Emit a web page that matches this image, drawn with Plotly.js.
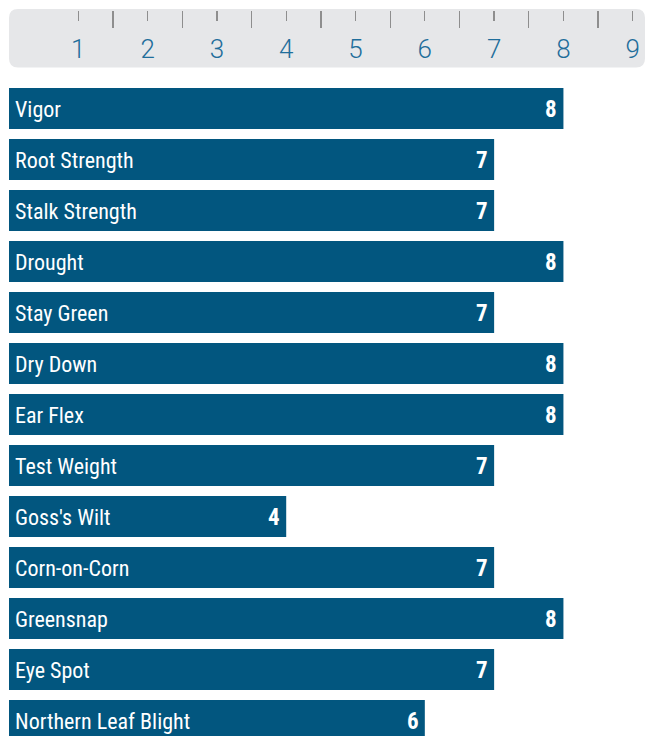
<!DOCTYPE html>
<html>
<head>
<meta charset="utf-8">
<script src="https://cdn.plot.ly/plotly-3.0.1.min.js"></script>
<style>html,body{margin:0;padding:0;background:#fff;}#chart{width:645px;height:736px;}</style>
</head>
<body>
<div id="chart"></div>
<script>
const categories = ["Vigor","Root Strength","Stalk Strength","Drought","Stay Green","Dry Down","Ear Flex","Test Weight","Goss's Wilt","Corn-on-Corn","Greensnap","Eye Spot","Northern Leaf Blight"];
const scores = [8,7,7,8,7,8,8,7,4,7,8,7,6];
const majorTicks = [1,2,3,4,5,6,7,8,9];
const minorTicks = [1.5,2.5,3.5,4.5,5.5,6.5,7.5,8.5];

const W = 645, H = 736;
const xRange = [0, 9.177];
const BAR = '#02567f';
const NAME_FONT = "'Roboto Condensed', 'Liberation Sans Narrow', 'Arial Narrow', 'DejaVu Sans Condensed', sans-serif";

function px2py(y){ return 1 - y / H; }
function px2px(x){ return (x - 9) / (W - 9); }

const bars = {
  type: 'bar',
  orientation: 'h',
  x: scores,
  y: categories,
  marker: {color: BAR, line: {width: 0}},
  hoverinfo: 'skip',
  showlegend: false
};

const annotations = [];
categories.forEach((c, i) => {
  annotations.push({
    x: 0, y: c, xref: 'x', yref: 'y',
    text: c, showarrow: false, xanchor: 'left', yanchor: 'middle',
    xshift: 4, yshift: -1,
    font: {family: NAME_FONT, size: 22, color: '#ffffff', stretch: 'condensed'}
  });
  annotations.push({
    x: scores[i], y: c, xref: 'x', yref: 'y',
    text: '<b>' + scores[i] + '</b>', showarrow: false, xanchor: 'right', yanchor: 'middle',
    xshift: -4, yshift: -1,
    font: {family: NAME_FONT, size: 23, color: '#ffffff', stretch: 'condensed'}
  });
});

// rounded ruler background
const x0 = px2px(9), x1 = px2px(645), yT = px2py(9), yB = px2py(67.5);
const rx = 9 / (W - 9), ry = 9 / H;
const path = `M ${x0+rx},${yT} L ${x1-rx},${yT} Q ${x1},${yT} ${x1},${yT-ry} L ${x1},${yB+ry} Q ${x1},${yB} ${x1-rx},${yB} L ${x0+rx},${yB} Q ${x0},${yB} ${x0},${yB+ry} L ${x0},${yT-ry} Q ${x0},${yT} ${x0+rx},${yT} Z`;

const layout = {
  width: W, height: H,
  margin: {l: 9, r: 0, t: 0, b: 0, pad: 0},
  paper_bgcolor: '#ffffff',
  plot_bgcolor: 'rgba(0,0,0,0)',
  bargap: 10/51,
  xaxis: {range: xRange, visible: false, fixedrange: true},
  xaxis2: {
    range: xRange, overlaying: 'x', anchor: 'free', position: px2py(9.5), side: 'bottom',
    tickmode: 'array', tickvals: majorTicks, ticktext: majorTicks.map(String),
    ticks: 'outside', ticklen: 10, tickwidth: 1.3, tickcolor: '#8e8e8e',
    minor: {tickmode: 'array', tickvals: minorTicks, ticks: 'outside', ticklen: 17.5, tickwidth: 1.3, tickcolor: '#8e8e8e', showgrid: false},
    showgrid: false, zeroline: false, showline: false,
    tickfont: {family: "Roboto, 'Liberation Sans', sans-serif", weight: 300, size: 26, color: '#1f6e9b'},
    ticklabelstandoff: 6
  },
  yaxis: {
    type: 'category', range: [12.304, -0.5], domain: [0, (H - 83) / H],
    visible: false, fixedrange: true
  },
  shapes: [{type: 'path', path: path, xref: 'paper', yref: 'paper', fillcolor: '#e6e7e9', line: {width: 0}, layer: 'below'}],
  annotations: annotations
};

const ruler = {type: 'scatter', x: [], y: [], xaxis: 'x2', yaxis: 'y', hoverinfo: 'skip', showlegend: false};

Plotly.newPlot('chart', [bars, ruler], layout, {displayModeBar: false, staticPlot: true});
</script>
</body>
</html>
